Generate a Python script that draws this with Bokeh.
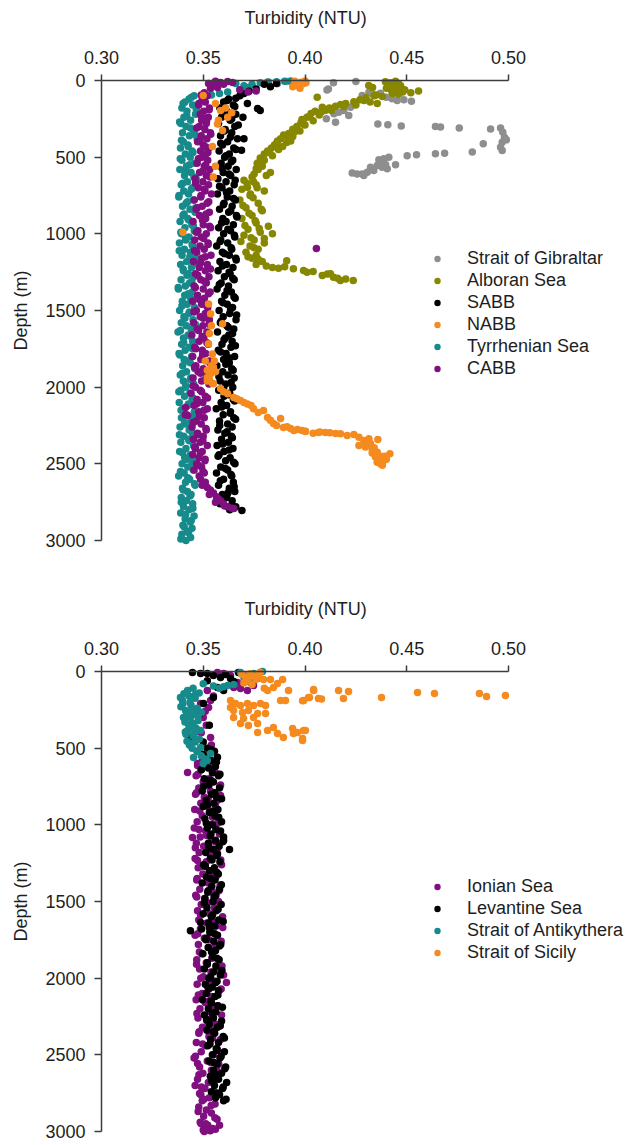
from bokeh.plotting import figure
from bokeh.models import (Range1d, LinearAxis, FixedTicker, PrintfTickFormatter,
                          Legend, LegendItem)
from bokeh.layouts import column
from bokeh.embed import file_html
from bokeh.resources import INLINE

# ============================ DATA ============================
X_TICKS = [0.30, 0.35, 0.40, 0.45, 0.50]
Y_TICKS = [0, 500, 1000, 1500, 2000, 2500, 3000]
X_LABEL = "Turbidity (NTU)"
Y_LABEL = "Depth (m)"

TOP_NAMES = ["Strait of Gibraltar", "Alboran Sea", "SABB", "NABB", "Tyrrhenian Sea", "CABB"]
BOT_NAMES = ["Ionian Sea", "Levantine Sea", "Strait of Antikythera", "Strait of Sicily"]

# ---- top panel ----
GIB_TURB = [0.3815, 0.3865, 0.3912, 0.4140, 0.4115, 0.4108, 0.4250,
            0.4314, 0.4335, 0.4371, 0.4400, 0.4428, 0.4453, 0.4486, 0.4523, 0.4281,
            0.4240, 0.4224, 0.4191, 0.4166, 0.4142, 0.4215, 0.4101, 0.4150, 0.4105,
            0.4358, 0.4407, 0.4473, 0.4641, 0.4666, 0.4758, 0.4912, 0.4961,
            0.4972, 0.4980, 0.4990, 0.4969, 0.4961, 0.4969, 0.4876, 0.4822, 0.4686, 0.4641, 0.4548, 0.4502, 0.4445,
            0.4412, 0.4387, 0.4371, 0.4396, 0.4355, 0.4379, 0.4322, 0.4338, 0.4306, 0.4281, 0.4256, 0.4232, 0.4289, 0.4404, 0.4363]
GIB_DEPTH = [12, 20, 6, 14, 55, 62, 7,
             76, 91, 83, 109, 119, 130, 126, 135, 98,
             157, 174, 196, 207, 217, 228, 196, 272, 250,
             283, 289, 296, 300, 304, 309, 317, 309,
             337, 370, 387, 402, 435, 457, 413, 467, 474, 478, 485, 491, 550,
             500, 511, 533, 548, 554, 565, 565, 587, 598, 609, 609, 604, 620, 576, 517]

ALB_TURB = [0.4395, 0.4420, 0.4445, 0.4460, 0.4410, 0.4435, 0.4470, 0.4450, 0.4425, 0.4400,
            0.4480, 0.4460, 0.4430, 0.4490, 0.4558, 0.4520, 0.4380, 0.4350, 0.4313, 0.4332,
            0.4340, 0.4300, 0.4270, 0.4320, 0.4355, 0.4240, 0.4200, 0.4175, 0.4150, 0.4120,
            0.4085, 0.4060, 0.4100, 0.4050, 0.4030, 0.4070, 0.4010, 0.3985, 0.4040, 0.3980,
            0.4000, 0.3960, 0.3940, 0.3975, 0.3920, 0.3895, 0.3940, 0.3880, 0.3865, 0.3910,
            0.3850, 0.3835, 0.3870, 0.3816, 0.3800, 0.3840, 0.3780, 0.3800, 0.3765, 0.3790,
            0.3760, 0.3830, 0.3810, 0.3740, 0.3747, 0.3717, 0.3732,
            0.4080, 0.4020, 0.3995, 0.3950, 0.3905, 0.3860, 0.3825, 0.3790, 0.3770, 0.3750,
            0.4130, 0.4190, 0.4250, 0.4290, 0.3930, 0.3890,
            0.3700, 0.3760, 0.3690, 0.3800, 0.3730, 0.3680, 0.3770, 0.3710, 0.3790, 0.3740,
            0.3690, 0.3760, 0.3820, 0.3720, 0.3780, 0.3840, 0.3700, 0.3750, 0.3800, 0.3730,
            0.3770, 0.3710, 0.3760, 0.3740, 0.3790, 0.3760, 0.3810, 0.3840, 0.3870, 0.3910,
            0.3943, 0.3993, 0.4010, 0.4040, 0.4085, 0.4110, 0.4125, 0.4140, 0.4160, 0.4174,
            0.4200, 0.4237, 0.3900,
            0.3715, 0.3765, 0.3745, 0.3695, 0.3785, 0.3725, 0.3755, 0.3705, 0.3775, 0.3735,
            0.3800, 0.3685, 0.3750, 0.3720, 0.3770]
ALB_DEPTH = [8, 15, 5, 20, 30, 40, 35, 55, 65, 50,
             75, 90, 85, 60, 68, 80, 105, 95, 33, 46,
             100, 112, 125, 140, 150, 138, 150, 157, 168, 180,
             174, 109, 190, 200, 215, 225, 240, 255, 262, 275,
             290, 300, 318, 330, 345, 355, 365, 380, 395, 405,
             420, 440, 450, 460, 480, 490, 505, 520, 540, 560,
             575, 600, 620, 630, 660, 696, 740,
             205, 235, 285, 335, 360, 410, 470, 530, 580, 610,
             195, 170, 160, 130, 395, 430,
             650, 680, 710, 720, 750, 780, 800, 830, 850, 880,
             900, 930, 950, 970, 990, 1000, 1010, 1040, 1060, 1080,
             1100, 1120, 1140, 1160, 1180, 1200, 1210, 1220, 1225, 1175,
             1228, 1239, 1250, 1245, 1272, 1262, 1260, 1283, 1290, 1304,
             1295, 1304, 1215,
             670, 700, 765, 815, 840, 865, 915, 945, 965, 1025,
             1030, 1050, 1090, 1150, 1165]

SABB_TURB = [0.3800, 0.3830, 0.3860, 0.3760, 0.3725, 0.3700, 0.3680, 0.3660, 0.3717, 0.3767,
             0.3780, 0.3695, 0.3700, 0.3688, 0.3690, 0.3650,
             0.3625, 0.3600, 0.3648, 0.3582, 0.3615, 0.3660, 0.3590, 0.3632, 0.3575, 0.3655,
             0.3608, 0.3640, 0.3585, 0.3668, 0.3620, 0.3595, 0.3650, 0.3578, 0.3628, 0.3605,
             0.3645, 0.3588, 0.3622, 0.3662, 0.3598, 0.3635, 0.3572, 0.3612, 0.3652, 0.3592,
             0.3630, 0.3570, 0.3618, 0.3658, 0.3602, 0.3642, 0.3580, 0.3625, 0.3663, 0.3596,
             0.3612, 0.3648, 0.3576, 0.3634, 0.3600, 0.3655, 0.3586, 0.3620, 0.3566, 0.3640,
             0.3594, 0.3628, 0.3660, 0.3582, 0.3614, 0.3646, 0.3573, 0.3632, 0.3604, 0.3652,
             0.3588, 0.3624, 0.3568, 0.3638, 0.3606, 0.3657, 0.3590, 0.3618, 0.3644, 0.3578,
             0.3630, 0.3598, 0.3661, 0.3584, 0.3616, 0.3650, 0.3570, 0.3626, 0.3608, 0.3642,
             0.3592, 0.3636, 0.3574, 0.3612, 0.3654, 0.3600, 0.3628, 0.3567, 0.3640, 0.3596,
             0.3622, 0.3652, 0.3583, 0.3610, 0.3645, 0.3576, 0.3630, 0.3602, 0.3648, 0.3588,
             0.3615, 0.3564, 0.3634, 0.3598, 0.3650, 0.3580, 0.3620, 0.3642, 0.3572, 0.3606,
             0.3638, 0.3590, 0.3624, 0.3568, 0.3646, 0.3602, 0.3578, 0.3632, 0.3610, 0.3656,
             0.3586, 0.3620, 0.3565, 0.3640, 0.3600, 0.3648, 0.3575, 0.3628, 0.3655, 0.3594,
             0.3616, 0.3642, 0.3582, 0.3660, 0.3630,
             0.3618, 0.3655, 0.3596, 0.3640, 0.3672, 0.3604, 0.3633, 0.3586, 0.3660, 0.3612,
             0.3638, 0.3592, 0.3626, 0.3657, 0.3580, 0.3614, 0.3649, 0.3599, 0.3635, 0.3666,
             0.3590, 0.3621, 0.3653, 0.3583, 0.3637, 0.3605, 0.3662, 0.3594, 0.3627, 0.3645,
             0.3579, 0.3617, 0.3651, 0.3597, 0.3634, 0.3664, 0.3588, 0.3623, 0.3644, 0.3602,
             0.3658, 0.3585, 0.3629, 0.3611, 0.3647, 0.3577, 0.3637, 0.3600, 0.3624, 0.3654,
             0.3591, 0.3633, 0.3659, 0.3581, 0.3617, 0.3643, 0.3596, 0.3627, 0.3573, 0.3649,
             0.3609, 0.3636, 0.3584, 0.3652, 0.3621, 0.3597, 0.3640]
SABB_DEPTH = [25, 40, 20, 55, 70, 85, 100, 115, 150, 183,
              196, 240, 380, 455, 2805, 2790,
              120, 140, 160, 180, 200, 220, 240, 260, 280, 300,
              320, 340, 360, 380, 400, 420, 440, 460, 480, 500,
              520, 540, 560, 580, 600, 620, 640, 660, 680, 700,
              720, 740, 760, 780, 800, 820, 840, 860, 880, 900,
              920, 940, 960, 980, 1000, 1020, 1040, 1060, 1080, 1100,
              1120, 1140, 1160, 1180, 1200, 1220, 1240, 1260, 1280, 1300,
              1320, 1340, 1360, 1380, 1400, 1420, 1440, 1460, 1480, 1500,
              1520, 1540, 1560, 1580, 1600, 1620, 1640, 1660, 1680, 1700,
              1720, 1740, 1760, 1780, 1800, 1820, 1840, 1860, 1880, 1900,
              1920, 1940, 1960, 1980, 2000, 2020, 2040, 2060, 2080, 2100,
              2120, 2140, 2160, 2180, 2200, 2220, 2240, 2260, 2280, 2300,
              2320, 2340, 2360, 2380, 2400, 2420, 2440, 2460, 2480, 2500,
              2520, 2540, 2560, 2580, 2600, 2620, 2640, 2660, 2680, 2700,
              2720, 2740, 2760, 2780, 2800,
              130, 170, 210, 250, 290, 330, 370, 410, 450, 490,
              530, 570, 610, 650, 690, 730, 770, 810, 850, 890,
              930, 970, 1010, 1050, 1090, 1130, 1170, 1210, 1250, 1290,
              1330, 1370, 1410, 1450, 1490, 1530, 1570, 1610, 1650, 1690,
              1730, 1770, 1810, 1850, 1890, 1930, 1970, 2010, 2050, 2090,
              2130, 2170, 2210, 2250, 2290, 2330, 2370, 2410, 2450, 2490,
              2530, 2570, 2610, 2650, 2690, 2730, 2770]

NABB_TURB = [0.3950, 0.3980, 0.4000, 0.3990, 0.3965, 0.4005, 0.3940, 0.3975,
             0.3500, 0.3560, 0.3585, 0.3620, 0.3570, 0.3595, 0.3610, 0.3640, 0.3575, 0.3550, 0.3560, 0.3545,
             0.3400, 0.3526, 0.3536, 0.3595, 0.3540, 0.3526, 0.3545, 0.3550, 0.3536, 0.3530,
             0.3555, 0.3520, 0.3510, 0.3540, 0.3520, 0.3560, 0.3530, 0.3545,
             0.3520, 0.3550, 0.3585, 0.3620, 0.3650, 0.3683, 0.3717, 0.3747, 0.3796, 0.3816,
             0.3845, 0.3880, 0.3894, 0.3929, 0.3963, 0.4002, 0.4066,
             0.3600, 0.3665, 0.3700, 0.3735, 0.3770, 0.3830, 0.3860, 0.3912, 0.3945, 0.3985,
             0.4040, 0.4100, 0.4150,
             0.4002, 0.4073, 0.4122, 0.4174, 0.4207, 0.4240, 0.4265, 0.4289, 0.4314, 0.4358,
             0.4265, 0.4297, 0.4330, 0.4355, 0.4417, 0.4346, 0.4379, 0.4355, 0.4387, 0.4371, 0.4322,
             0.4300, 0.4340, 0.4390, 0.4360, 0.4400, 0.4330, 0.4380]
NABB_DEPTH = [5, 12, 3, 22, 30, 15, 40, 50,
              98, 150, 196, 239, 283, 326, 180, 210, 260, 630, 560, 430,
              990, 1457, 1522, 1587, 1600, 1717, 1783, 1870, 1913, 1650,
              1830, 1960, 1830, 1860, 1890, 1900, 1950, 1975,
              1937, 1977, 2009, 2043, 2067, 2087, 2109, 2140, 2152, 2198,
              2237, 2204, 2263, 2270, 2276, 2289, 2296,
              2030, 2075, 2100, 2120, 2165, 2215, 2250, 2258, 2283, 2282,
              2300, 2296, 2302,
              2287, 2293, 2298, 2304, 2315, 2309, 2326, 2348, 2337, 2341,
              2380, 2391, 2402, 2424, 2435, 2456, 2467, 2489, 2478, 2500, 2367,
              2360, 2395, 2450, 2440, 2470, 2430, 2510]

TYR_TURB = [0.3660, 0.3700, 0.3740, 0.3780, 0.3820, 0.3860, 0.3900, 0.3930, 0.3720, 0.3680,
            0.3620, 0.3580, 0.3540,
            0.3455, 0.3430, 0.3410, 0.3448, 0.3395, 0.3420, 0.3462, 0.3405, 0.3438, 0.3390,
            0.3415, 0.3450, 0.3398, 0.3432, 0.3470, 0.3402, 0.3425, 0.3388, 0.3445, 0.3412,
            0.3436, 0.3395, 0.3458, 0.3418, 0.3385, 0.3440, 0.3408, 0.3465, 0.3422, 0.3392,
            0.3447, 0.3404, 0.3428, 0.3380, 0.3452, 0.3416, 0.3398, 0.3435, 0.3460, 0.3400,
            0.3424, 0.3386, 0.3444, 0.3410, 0.3456, 0.3393, 0.3430, 0.3414, 0.3383, 0.3449,
            0.3407, 0.3437, 0.3396, 0.3462, 0.3419, 0.3389, 0.3442, 0.3403, 0.3427, 0.3454,
            0.3391, 0.3433, 0.3412, 0.3378, 0.3446, 0.3409, 0.3438, 0.3397, 0.3421, 0.3457,
            0.3384, 0.3429, 0.3405, 0.3450, 0.3392, 0.3417, 0.3441, 0.3376, 0.3426, 0.3403,
            0.3448, 0.3394, 0.3432, 0.3411, 0.3381, 0.3443, 0.3406, 0.3436, 0.3399, 0.3459,
            0.3418, 0.3387, 0.3439, 0.3402, 0.3453, 0.3414, 0.3390, 0.3434, 0.3408, 0.3445,
            0.3382, 0.3425, 0.3401, 0.3456, 0.3419, 0.3393, 0.3440, 0.3412, 0.3386, 0.3431,
            0.3447, 0.3404, 0.3428, 0.3390, 0.3452, 0.3415, 0.3384, 0.3437, 0.3409, 0.3443,
            0.3396, 0.3424, 0.3451, 0.3406, 0.3379, 0.3433, 0.3413, 0.3460, 0.3398, 0.3422,
            0.3440, 0.3392, 0.3417, 0.3448, 0.3403, 0.3430, 0.3389, 0.3455, 0.3411, 0.3436,
            0.3400, 0.3445, 0.3420, 0.3395, 0.3438, 0.3415,
            0.3442, 0.3401, 0.3466, 0.3419, 0.3384, 0.3437, 0.3458, 0.3393, 0.3426, 0.3449,
            0.3387, 0.3433, 0.3412, 0.3454, 0.3399, 0.3441, 0.3381, 0.3423, 0.3463, 0.3406,
            0.3429, 0.3452, 0.3390, 0.3413, 0.3445, 0.3382, 0.3434, 0.3459, 0.3401, 0.3420,
            0.3444, 0.3377, 0.3426, 0.3451, 0.3395, 0.3432, 0.3410, 0.3461, 0.3388, 0.3439,
            0.3404, 0.3447, 0.3385, 0.3421, 0.3458, 0.3397, 0.3436, 0.3414, 0.3380, 0.3450,
            0.3427, 0.3391, 0.3455, 0.3408, 0.3440, 0.3383, 0.3431, 0.3462, 0.3399, 0.3418,
            0.3446, 0.3388, 0.3424, 0.3457, 0.3402, 0.3435, 0.3392, 0.3449, 0.3413, 0.3441,
            0.3406, 0.3428, 0.3390]
TYR_DEPTH = [20, 35, 25, 15, 10, 8, 5, 3, 45, 60,
             75, 85, 95,
             100, 120, 140, 160, 180, 200, 220, 240, 260, 280,
             300, 320, 340, 360, 380, 400, 420, 440, 460, 480,
             500, 520, 540, 560, 580, 600, 620, 640, 660, 680,
             700, 720, 740, 760, 780, 800, 820, 840, 860, 880,
             900, 920, 940, 960, 980, 1000, 1020, 1040, 1060, 1080,
             1100, 1120, 1140, 1160, 1180, 1200, 1220, 1240, 1260, 1280,
             1300, 1320, 1340, 1360, 1380, 1400, 1420, 1440, 1460, 1480,
             1500, 1520, 1540, 1560, 1580, 1600, 1620, 1640, 1660, 1680,
             1700, 1720, 1740, 1760, 1780, 1800, 1820, 1840, 1860, 1880,
             1900, 1920, 1940, 1960, 1980, 2000, 2020, 2040, 2060, 2080,
             2100, 2120, 2140, 2160, 2180, 2200, 2220, 2240, 2260, 2280,
             2300, 2320, 2340, 2360, 2380, 2400, 2420, 2440, 2460, 2480,
             2500, 2520, 2540, 2560, 2580, 2600, 2620, 2640, 2660, 2680,
             2700, 2720, 2740, 2760, 2780, 2800, 2820, 2840, 2860, 2880,
             2900, 2920, 2940, 2960, 2980, 3000,
             110, 150, 190, 230, 270, 310, 350, 390, 430, 470,
             510, 550, 590, 630, 670, 710, 750, 790, 830, 870,
             910, 950, 990, 1030, 1070, 1110, 1150, 1190, 1230, 1270,
             1310, 1350, 1390, 1430, 1470, 1510, 1550, 1590, 1630, 1670,
             1710, 1750, 1790, 1830, 1870, 1910, 1950, 1990, 2030, 2070,
             2110, 2150, 2190, 2230, 2270, 2310, 2350, 2390, 2430, 2470,
             2510, 2550, 2590, 2630, 2670, 2710, 2750, 2790, 2830, 2870,
             2910, 2950, 2990]

CABB_TURB = [0.3526, 0.3550, 0.3585, 0.3620, 0.3644, 0.3536, 0.3570, 0.3680, 0.3720, 0.3760,
             0.3505, 0.3490, 0.3600, 0.3560, 0.4056, 0.3413, 0.3423,
             0.3520, 0.3495, 0.3510, 0.3478, 0.3530, 0.3502, 0.3485, 0.3525, 0.3492, 0.3515,
             0.3480, 0.3508, 0.3535, 0.3490, 0.3518, 0.3472, 0.3500, 0.3528, 0.3486, 0.3512,
             0.3494, 0.3522, 0.3470, 0.3505, 0.3532, 0.3482, 0.3515, 0.3460, 0.3498, 0.3526,
             0.3476, 0.3508, 0.3540, 0.3488, 0.3456, 0.3519, 0.3495, 0.3465, 0.3530, 0.3482,
             0.3512, 0.3450, 0.3500, 0.3536, 0.3474, 0.3515, 0.3490, 0.3458, 0.3524, 0.3484,
             0.3505, 0.3468, 0.3538, 0.3493, 0.3452, 0.3520, 0.3480, 0.3510, 0.3462, 0.3528,
             0.3488, 0.3515, 0.3455, 0.3500, 0.3534, 0.3472, 0.3506, 0.3448, 0.3492, 0.3522,
             0.3466, 0.3510, 0.3485, 0.3530, 0.3452, 0.3498, 0.3470, 0.3518, 0.3444, 0.3503,
             0.3480, 0.3525, 0.3458, 0.3495, 0.3512, 0.3448, 0.3488, 0.3532, 0.3464, 0.3500,
             0.3475, 0.3516, 0.3450, 0.3492, 0.3528, 0.3462, 0.3485, 0.3440, 0.3510, 0.3470,
             0.3498, 0.3455, 0.3520, 0.3478, 0.3412, 0.3505, 0.3465, 0.3490, 0.3445, 0.3515,
             0.3472, 0.3500, 0.3452, 0.3485, 0.3520, 0.3460, 0.3495, 0.3448, 0.3478, 0.3508,
             0.3468, 0.3492, 0.3455, 0.3505, 0.3480,
             0.3487, 0.3510, 0.3495, 0.3520, 0.3535, 0.3550, 0.3530, 0.3565, 0.3585, 0.3560,
             0.3600, 0.3620, 0.3640, 0.3650, 0.3605, 0.3575,
             0.3503, 0.3478, 0.3529, 0.3491, 0.3516, 0.3468, 0.3537, 0.3484, 0.3509, 0.3523,
             0.3476, 0.3512, 0.3498, 0.3533, 0.3462, 0.3507, 0.3489, 0.3527, 0.3471, 0.3514,
             0.3496, 0.3531, 0.3466, 0.3502, 0.3524, 0.3457, 0.3510, 0.3487, 0.3535, 0.3473,
             0.3506, 0.3461, 0.3526, 0.3483, 0.3517, 0.3454, 0.3500, 0.3529, 0.3477, 0.3494,
             0.3518, 0.3463, 0.3497, 0.3530, 0.3457, 0.3487, 0.3511, 0.3449, 0.3492, 0.3521,
             0.3467, 0.3504, 0.3482, 0.3451, 0.3513, 0.3474, 0.3498, 0.3459, 0.3486, 0.3509,
             0.3476, 0.3499]
CABB_DEPTH = [20, 33, 13, 7, 13, 52, 46, 60, 75, 68,
              80, 95, 25, 5, 1096, 2132, 2185,
              100, 120, 140, 160, 180, 200, 220, 240, 260, 280,
              300, 320, 340, 360, 380, 400, 420, 440, 460, 480,
              500, 520, 540, 560, 580, 600, 620, 640, 660, 680,
              700, 720, 740, 760, 780, 800, 820, 840, 860, 880,
              900, 920, 940, 960, 980, 1000, 1020, 1040, 1060, 1080,
              1100, 1120, 1140, 1160, 1180, 1200, 1220, 1240, 1260, 1280,
              1300, 1320, 1340, 1360, 1380, 1400, 1420, 1440, 1460, 1480,
              1500, 1520, 1540, 1560, 1580, 1600, 1620, 1640, 1660, 1680,
              1700, 1720, 1740, 1760, 1780, 1800, 1820, 1840, 1860, 1880,
              1900, 1920, 1940, 1960, 1980, 2000, 2020, 2040, 2060, 2080,
              2100, 2120, 2140, 2160, 2180, 2200, 2220, 2240, 2260, 2280,
              2300, 2320, 2340, 2360, 2380, 2400, 2420, 2440, 2460, 2480,
              2500, 2520, 2540, 2560, 2580,
              2600, 2620, 2640, 2655, 2670, 2690, 2700, 2715, 2740, 2750,
              2760, 2780, 2790, 2792, 2775, 2730,
              110, 150, 190, 230, 270, 310, 350, 390, 430, 470,
              510, 550, 590, 630, 670, 710, 750, 790, 830, 870,
              910, 950, 990, 1030, 1070, 1110, 1150, 1190, 1230, 1270,
              1310, 1350, 1390, 1430, 1470, 1510, 1550, 1590, 1630, 1670,
              1710, 1750, 1790, 1830, 1870, 1910, 1950, 1990, 2030, 2070,
              2110, 2150, 2190, 2230, 2270, 2310, 2350, 2390, 2430, 2470,
              2510, 2550]

# ---- bottom panel ----
ION_TURB = [0.3570, 0.3600, 0.3634, 0.3650, 0.3683, 0.3717, 0.3747, 0.3668, 0.3520, 0.3536,
            0.3526, 0.3487, 0.3536, 0.3550, 0.3423, 0.3472, 0.3500, 0.3515, 0.3490, 0.3540,
            0.3470, 0.3510, 0.3550, 0.3447, 0.3472, 0.3585, 0.3472, 0.3482, 0.3614, 0.3500,
            0.3560, 0.3520, 0.3490, 0.3580, 0.3535,
            0.3510, 0.3472, 0.3545, 0.3490, 0.3560, 0.3465, 0.3528, 0.3500, 0.3585, 0.3478,
            0.3535, 0.3462, 0.3505, 0.3570, 0.3488, 0.3520, 0.3458, 0.3548, 0.3495, 0.3575,
            0.3470, 0.3530, 0.3456, 0.3512, 0.3580, 0.3485, 0.3540, 0.3466, 0.3502, 0.3568,
            0.3480, 0.3552, 0.3460, 0.3515, 0.3590, 0.3475, 0.3538, 0.3498, 0.3562, 0.3468,
            0.3525, 0.3582, 0.3483, 0.3545, 0.3463, 0.3508, 0.3575, 0.3490, 0.3555, 0.3472,
            0.3532, 0.3595, 0.3478, 0.3518, 0.3565, 0.3486, 0.3542, 0.3460, 0.3505, 0.3588,
            0.3476, 0.3528, 0.3560, 0.3492, 0.3548, 0.3468, 0.3515, 0.3592, 0.3482, 0.3538,
            0.3600, 0.3488, 0.3555, 0.3470, 0.3522, 0.3578, 0.3495, 0.3540, 0.3465, 0.3510,
            0.3570, 0.3484, 0.3535, 0.3590, 0.3474, 0.3518, 0.3562, 0.3496, 0.3545, 0.3478,
            0.3528, 0.3585, 0.3466, 0.3512, 0.3568, 0.3490, 0.3550, 0.3455, 0.3520, 0.3576,
            0.3482, 0.3540, 0.3498, 0.3565, 0.3472, 0.3525, 0.3460, 0.3508, 0.3552, 0.3488,
            0.3530, 0.3495, 0.3558, 0.3478, 0.3515, 0.3540, 0.3502, 0.3568, 0.3485, 0.3522,
            0.3545, 0.3505,
            0.3492, 0.3553, 0.3474, 0.3538, 0.3581, 0.3467, 0.3524, 0.3560, 0.3483, 0.3546,
            0.3571, 0.3479, 0.3517, 0.3558, 0.3461, 0.3533, 0.3586, 0.3494, 0.3549, 0.3470,
            0.3539, 0.3577, 0.3468, 0.3521, 0.3563, 0.3487, 0.3544, 0.3596, 0.3473, 0.3529,
            0.3559, 0.3481, 0.3542, 0.3467, 0.3574, 0.3501, 0.3536, 0.3588, 0.3476, 0.3527,
            0.3554, 0.3469, 0.3531, 0.3583, 0.3480, 0.3546, 0.3497, 0.3570, 0.3462, 0.3537,
            0.3566, 0.3479, 0.3548, 0.3491, 0.3573, 0.3503, 0.3539, 0.3475, 0.3557, 0.3512,
            0.3530]
ION_DEPTH = [7, 13, 26, 104, 111, 124, 91, 72, 124, 189,
             235, 209, 430, 580, 659, 613, 300, 350, 400, 480,
             520, 260, 160, 1082, 1232, 808, 2557, 2752, 2028, 2990,
             2985, 2970, 2950, 2960, 2995,
             580, 600, 620, 640, 660, 680, 700, 720, 740, 760,
             780, 800, 820, 840, 860, 880, 900, 920, 940, 960,
             980, 1000, 1020, 1040, 1060, 1080, 1100, 1120, 1140, 1160,
             1180, 1200, 1220, 1240, 1260, 1280, 1300, 1320, 1340, 1360,
             1380, 1400, 1420, 1440, 1460, 1480, 1500, 1520, 1540, 1560,
             1580, 1600, 1620, 1640, 1660, 1680, 1700, 1720, 1740, 1760,
             1780, 1800, 1820, 1840, 1860, 1880, 1900, 1920, 1940, 1960,
             1980, 2000, 2020, 2040, 2060, 2080, 2100, 2120, 2140, 2160,
             2180, 2200, 2220, 2240, 2260, 2280, 2300, 2320, 2340, 2360,
             2380, 2400, 2420, 2440, 2460, 2480, 2500, 2520, 2540, 2560,
             2580, 2600, 2620, 2640, 2660, 2680, 2700, 2720, 2740, 2760,
             2780, 2800, 2820, 2840, 2860, 2880, 2900, 2920, 2940, 2960,
             2980, 3000,
             590, 630, 670, 710, 750, 790, 830, 870, 910, 950,
             990, 1030, 1070, 1110, 1150, 1190, 1230, 1270, 1310, 1350,
             1390, 1430, 1470, 1510, 1550, 1590, 1630, 1670, 1710, 1750,
             1790, 1830, 1870, 1910, 1950, 1990, 2030, 2070, 2110, 2150,
             2190, 2230, 2270, 2310, 2350, 2390, 2430, 2470, 2510, 2550,
             2590, 2630, 2670, 2710, 2750, 2790, 2830, 2870, 2910, 2950,
             2990]

LEV_TURB = [0.3447, 0.3487, 0.3520, 0.3585, 0.3634, 0.3673, 0.3610, 0.3550, 0.3570, 0.3600,
            0.3550, 0.3501, 0.3437, 0.3520, 0.3650, 0.3480, 0.3530, 0.3460, 0.3500, 0.3437,
            0.3629, 0.3600, 0.3487,
            0.3520, 0.3555, 0.3498, 0.3570, 0.3535, 0.3510, 0.3560, 0.3490, 0.3545, 0.3575,
            0.3505, 0.3550, 0.3528, 0.3580, 0.3495, 0.3540, 0.3565, 0.3515, 0.3552, 0.3500,
            0.3572, 0.3530, 0.3558, 0.3508, 0.3590, 0.3545, 0.3520, 0.3585, 0.3538, 0.3600,
            0.3560, 0.3525, 0.3578, 0.3548, 0.3512, 0.3566, 0.3535, 0.3582, 0.3502, 0.3555,
            0.3530, 0.3574, 0.3516, 0.3558, 0.3495, 0.3542, 0.3580, 0.3522, 0.3562, 0.3508,
            0.3548, 0.3588, 0.3518, 0.3564, 0.3500, 0.3540, 0.3576, 0.3526, 0.3556, 0.3492,
            0.3532, 0.3570, 0.3514, 0.3552, 0.3586, 0.3524, 0.3560, 0.3498, 0.3546, 0.3578,
            0.3520, 0.3562, 0.3505, 0.3550, 0.3584, 0.3528, 0.3568, 0.3510, 0.3544, 0.3575,
            0.3515, 0.3558, 0.3496, 0.3540, 0.3572, 0.3525, 0.3562, 0.3506, 0.3550, 0.3590,
            0.3530, 0.3570, 0.3518, 0.3556, 0.3598, 0.3536, 0.3575, 0.3522, 0.3564, 0.3604,
            0.3545, 0.3582, 0.3528, 0.3568, 0.3610, 0.3550, 0.3590, 0.3535, 0.3575, 0.3615,
            0.3555, 0.3595, 0.3540, 0.3580, 0.3560, 0.3600,
            0.3540, 0.3508, 0.3565, 0.3525, 0.3582, 0.3533, 0.3502, 0.3557, 0.3590, 0.3520,
            0.3548, 0.3576, 0.3515, 0.3562, 0.3535, 0.3596, 0.3528, 0.3570, 0.3543, 0.3510,
            0.3566, 0.3537, 0.3589, 0.3524, 0.3553, 0.3505, 0.3573, 0.3545, 0.3598, 0.3530,
            0.3556, 0.3513, 0.3580, 0.3541, 0.3567, 0.3520, 0.3592, 0.3536, 0.3560, 0.3527,
            0.3572, 0.3538, 0.3594, 0.3545, 0.3516, 0.3583, 0.3550, 0.3604, 0.3533, 0.3568,
            0.3588, 0.3552, 0.3606, 0.3563, 0.3542, 0.3598, 0.3570, 0.3612]
LEV_DEPTH = [7, 13, 13, 39, 46, 7, 20, 26, 104, 124,
             170, 209, 430, 60, 65, 280, 350, 380, 460, 1690,
             1161, 1102, 1637,
             500, 520, 540, 560, 580, 600, 620, 640, 660, 680,
             700, 720, 740, 760, 780, 800, 820, 840, 860, 880,
             900, 920, 940, 960, 980, 1000, 1020, 1040, 1060, 1080,
             1100, 1120, 1140, 1160, 1180, 1200, 1220, 1240, 1260, 1280,
             1300, 1320, 1340, 1360, 1380, 1400, 1420, 1440, 1460, 1480,
             1500, 1520, 1540, 1560, 1580, 1600, 1620, 1640, 1660, 1680,
             1700, 1720, 1740, 1760, 1780, 1800, 1820, 1840, 1860, 1880,
             1900, 1920, 1940, 1960, 1980, 2000, 2020, 2040, 2060, 2080,
             2100, 2120, 2140, 2160, 2180, 2200, 2220, 2240, 2260, 2280,
             2300, 2320, 2340, 2360, 2380, 2400, 2420, 2440, 2460, 2480,
             2500, 2520, 2540, 2560, 2580, 2600, 2620, 2640, 2660, 2680,
             2700, 2720, 2740, 2760, 2780, 2800,
             510, 550, 590, 630, 670, 710, 750, 790, 830, 870,
             910, 950, 990, 1030, 1070, 1110, 1150, 1190, 1230, 1270,
             1310, 1350, 1390, 1430, 1470, 1510, 1550, 1590, 1630, 1670,
             1710, 1750, 1790, 1830, 1870, 1910, 1950, 1990, 2030, 2070,
             2110, 2150, 2190, 2230, 2270, 2310, 2350, 2390, 2430, 2470,
             2510, 2550, 2590, 2630, 2670, 2710, 2750, 2790]

ANT_TURB = [0.3683, 0.3717, 0.3747, 0.3791, 0.3767, 0.3732, 0.3620, 0.3700, 0.3760, 0.3650,
            0.3600, 0.3580, 0.3500, 0.3550,
            0.3423, 0.3450, 0.3480, 0.3398, 0.3430, 0.3460, 0.3413, 0.3440, 0.3470, 0.3400,
            0.3437, 0.3403, 0.3455, 0.3420, 0.3490, 0.3452, 0.3410, 0.3475, 0.3423, 0.3487,
            0.3440, 0.3465, 0.3415, 0.3450, 0.3480, 0.3437, 0.3420, 0.3460, 0.3487, 0.3445,
            0.3470, 0.3536, 0.3452, 0.3520, 0.3490, 0.3510, 0.3500, 0.3388, 0.3390,
            0.3405, 0.3435, 0.3462, 0.3418, 0.3445, 0.3428, 0.3475, 0.3412, 0.3458, 0.3432]
ANT_DEPTH = [7, 26, 13, 0, 46, 72, 91, 40, 30, 85,
             100, 110, 80, 95,
             124, 110, 140, 189, 160, 175, 254, 220, 240, 210,
             300, 300, 280, 270, 265, 339, 330, 320, 385, 385,
             360, 370, 410, 420, 440, 470, 455, 460, 496, 500,
             520, 535, 561, 580, 550, 570, 600, 170, 230,
             145, 200, 150, 285, 250, 345, 290, 395, 400, 480]

SIC_TURB = [0.3690, 0.3710, 0.3730, 0.3750, 0.3720, 0.3760, 0.3700, 0.3740, 0.3770, 0.3780,
            0.3796, 0.3830, 0.3865, 0.3890, 0.3845, 0.3919, 0.3904, 0.3880, 0.3993, 0.4042,
            0.4066, 0.4017, 0.3816, 0.3800,
            0.3634, 0.3658, 0.3683, 0.3717, 0.3747, 0.3781, 0.3806, 0.3649, 0.3693, 0.3722,
            0.3767, 0.3649, 0.3698, 0.3747, 0.3683, 0.3722, 0.3767, 0.3806, 0.3634,
            0.3767, 0.3816, 0.3845, 0.3865, 0.3894, 0.3939, 0.3943, 0.3963, 0.3988, 0.3993,
            0.3988, 0.4022, 0.4042, 0.4081, 0.4165, 0.4189, 0.4214, 0.4376, 0.4553, 0.4636,
            0.4857, 0.4892, 0.4985, 0.4002, 0.3988]
SIC_DEPTH = [20, 40, 15, 30, 60, 50, 75, 85, 25, 5,
             52, 52, 78, 52, 104, 124, 189, 189, 189, 124,
             176, 170, 124, 110,
             235, 209, 222, 209, 222, 209, 222, 254, 267, 254,
             274, 300, 307, 300, 339, 352, 339, 274, 189,
             398, 385, 365, 404, 430, 372, 404, 398, 437, 385,
             190, 170, 117, 180, 124, 176, 130, 170, 137, 143,
             143, 163, 157, 385, 450]

COLORS = {
    "Strait of Gibraltar": "#8E8E8E",
    "Alboran Sea": "#878700",
    "SABB": "#000000",
    "NABB": "#F58A1F",
    "Tyrrhenian Sea": "#178B8B",
    "CABB": "#800F80",
    "Ionian Sea": "#800F80",
    "Levantine Sea": "#000000",
    "Strait of Antikythera": "#178B8B",
    "Strait of Sicily": "#F58A1F",
}

TOP_DATA = {
    "Strait of Gibraltar": (GIB_TURB, GIB_DEPTH),
    "Alboran Sea": (ALB_TURB, ALB_DEPTH),
    "SABB": (SABB_TURB, SABB_DEPTH),
    "NABB": (NABB_TURB, NABB_DEPTH),
    "Tyrrhenian Sea": (TYR_TURB, TYR_DEPTH),
    "CABB": (CABB_TURB, CABB_DEPTH),
}
BOT_DATA = {
    "Ionian Sea": (ION_TURB, ION_DEPTH),
    "Levantine Sea": (LEV_TURB, LEV_DEPTH),
    "Strait of Antikythera": (ANT_TURB, ANT_DEPTH),
    "Strait of Sicily": (SIC_TURB, SIC_DEPTH),
}
TOP_DRAW_ORDER = ["Strait of Gibraltar", "Alboran Sea", "Tyrrhenian Sea", "SABB", "CABB", "NABB"]
BOT_DRAW_ORDER = ["Ionian Sea", "Levantine Sea", "Strait of Antikythera", "Strait of Sicily"]

for d in (TOP_DATA, BOT_DATA):
    for k, (a, b) in d.items():
        assert len(a) == len(b), (k, len(a), len(b))

# ============================ STYLE / LAYOUT ============================
FONT = "Liberation Sans"
FS = "18px"
TXT = "#1e1e1e"
AXC = "#3c3c3c"
W = 626
LEFT, RIGHT, TOP = 101, 0, 74
PAD_TOP = 6
PX_PER_NTU = 2035.0
PX_PER_M = 460.0 / 3000.0
DOT = 7.5


def style_axis(ax):
    ax.axis_line_color = AXC
    ax.axis_line_width = 1.5
    ax.major_tick_line_color = AXC
    ax.major_tick_line_width = 1.5
    ax.minor_tick_in = 0
    ax.minor_tick_out = 0
    ax.major_label_text_font = FONT
    ax.major_label_text_font_size = FS
    ax.major_label_text_color = TXT


def make_panel(data, draw_order, legend_names, height, pad_bottom, legend_row0):
    frame_w = W - LEFT - RIGHT
    frame_h = PAD_TOP + 460 + pad_bottom
    x_end = 0.30 + frame_w / PX_PER_NTU
    p = figure(width=W, height=height,
               x_range=Range1d(0.30, x_end),
               y_range=Range1d(3000 + pad_bottom / PX_PER_M, -PAD_TOP / PX_PER_M),
               x_axis_location=None, y_axis_location=None,
               min_border_left=LEFT, min_border_right=RIGHT, min_border_top=TOP,
               min_border_bottom=height - TOP - frame_h,
               title=X_LABEL,
               output_backend="svg", toolbar_location=None)
    p.outline_line_color = None
    p.xgrid.visible = False
    p.ygrid.visible = False
    p.background_fill_color = "white"
    p.border_fill_color = "white"

    # title = x-axis name, left-aligned with an offset so it sits centred over 0.30-0.50
    p.title.align = "left"
    p.title.offset = 143
    p.title.standoff = 0
    p.title.text_font = FONT
    p.title.text_font_size = FS
    p.title.text_font_style = "normal"
    p.title.text_color = TXT

    # x axis labels + ticks (ticks point down from the frame top onto the depth-0 line)
    xa = LinearAxis(bounds=(0.30, 0.50), ticker=FixedTicker(ticks=X_TICKS),
                    formatter=PrintfTickFormatter(format="%.2f"))
    style_axis(xa)
    xa.axis_line_color = None
    xa.major_tick_out = 0
    xa.major_tick_in = PAD_TOP
    xa.major_label_standoff = 11
    xa.axis_label = " "
    xa.axis_label_text_font_size = "1px"
    xa.axis_label_standoff = 16
    p.add_layout(xa, "above")

    # the x axis line itself, at depth 0
    xline = LinearAxis(fixed_location=0, bounds=(0.30, 0.50), ticker=FixedTicker(ticks=[]))
    style_axis(xline)
    xline.major_tick_in = 0
    xline.major_tick_out = 0
    xline.major_label_standoff = 0
    p.add_layout(xline, "below")

    ya = LinearAxis(bounds=(0, 3000), ticker=FixedTicker(ticks=Y_TICKS), axis_label=Y_LABEL)
    style_axis(ya)
    ya.major_tick_in = 0
    ya.major_tick_out = 7
    ya.major_label_standoff = 9
    ya.axis_label_text_font = FONT
    ya.axis_label_text_font_size = FS
    ya.axis_label_text_font_style = "normal"
    ya.axis_label_text_color = TXT
    ya.axis_label_standoff = 11
    p.add_layout(ya, "left")

    rends = {}
    for name in draw_order:
        turb, depth = data[name]
        rends[name] = p.scatter(x=turb, y=depth, size=DOT, marker="circle",
                                fill_color=COLORS[name], line_color=None)

    n = len(legend_names)
    row_h, sp = 21, 1
    leg_h = n * row_h + (n - 1) * sp
    top_rel = PAD_TOP + legend_row0 - row_h / 2
    vy = frame_h - top_rel - leg_h
    vx = 328
    legend = Legend(items=[LegendItem(label=nm, renderers=[rends[nm]]) for nm in legend_names],
                    location=(vx, vy), orientation="vertical",
                    background_fill_alpha=0, border_line_color=None,
                    padding=0, margin=0, spacing=sp,
                    glyph_width=16, glyph_height=row_h, label_height=row_h,
                    label_standoff=22,
                    label_text_font=FONT, label_text_font_size=FS, label_text_color=TXT)
    p.add_layout(legend)
    return p


p1 = make_panel(TOP_DATA, TOP_DRAW_ORDER, TOP_NAMES, height=591, pad_bottom=6, legend_row0=178)
p2 = make_panel(BOT_DATA, BOT_DRAW_ORDER, BOT_NAMES, height=554, pad_bottom=6, legend_row0=215)

layout = column(p1, p2, spacing=0)
open("out.html", "w").write(file_html(layout, INLINE))
